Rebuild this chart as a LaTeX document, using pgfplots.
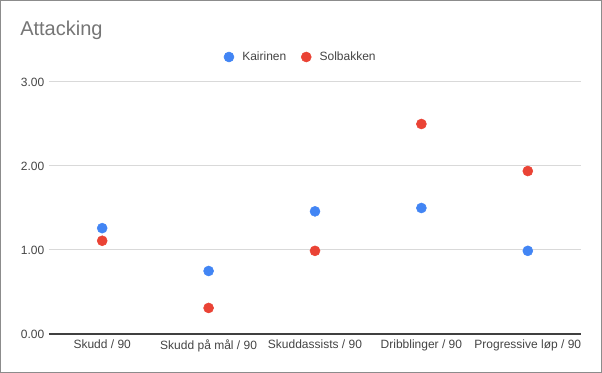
\documentclass[border=0pt]{standalone}
\usepackage{pgfplots}
\pgfplotsset{compat=1.18}
\usepackage{fontspec}
\setmainfont{Liberation Sans}
\definecolor{kblue}{HTML}{4285F4}
\definecolor{sred}{HTML}{EA4335}
\definecolor{gridc}{HTML}{D9D9D9}
\definecolor{txt}{HTML}{444444}
\definecolor{ttl}{HTML}{757575}
\begin{document}
\begin{tikzpicture}
\useasboundingbox (0,0) rectangle (451.5pt,279.75pt);
\draw[color=black!45, line width=0.75pt] (0.5pt,0.5pt) rectangle (451pt,279.25pt);
\node[anchor=base west, font=\fontsize{15}{17}\selectfont, text=ttl, inner sep=0pt] at (15pt,252.75pt) {Attacking};
\begin{axis}[
  at={(36.75pt,29.25pt)}, anchor=south west,
  scale only axis, width=399pt, height=189pt,
  xmin=-0.5, xmax=4.5, ymin=0, ymax=3,
  clip=false,
  axis line style={draw=none},
  xtick={0,1,2,3,4},
  xticklabels={Skudd / 90, Skudd på mål / 90, Skuddassists / 90, Dribblinger / 90, Progressive løp / 90},
  ytick={0,1,2,3},
  yticklabel={\pgfmathprintnumber[fixed,fixed zerofill,precision=2]{\tick}},
  /pgf/number format/assume math mode=true,
  tick style={draw=none},
  ymajorgrids, grid style={gridc, line width=0.75pt},
  ticklabel style={font=\fontsize{9}{11}\selectfont, text=txt},
  xticklabel style={yshift=-1pt},
  legend style={at={(0.4737,1)}, anchor=center, yshift=18.75pt, draw=none, fill=none,
    font=\fontsize{9}{11}\selectfont, text=txt, legend columns=2,
    /tikz/every even column/.append style={column sep=9pt}},
  legend image code/.code={\fill[#1] (0,0) circle (3.75pt); \path[draw=none,fill=none] (-3.75pt,0) (8pt,0);},
]
\addplot[only marks, mark=*, mark size=3.75pt, color=kblue, fill=kblue] coordinates {
(0,1.26) (1,0.75) (2,1.46) (3,1.50) (4,0.99)};
\addlegendentry{Kairinen}
\addplot[only marks, mark=*, mark size=3.75pt, color=sred, fill=sred] coordinates {
(0,1.11) (1,0.31) (2,0.99) (3,2.50) (4,1.94)};
\addlegendentry{Solbakken}
\draw[color=black!75, line width=1.3pt] (axis cs:-0.5,0) -- (axis cs:4.5,0);
\end{axis}
\end{tikzpicture}
\end{document}
